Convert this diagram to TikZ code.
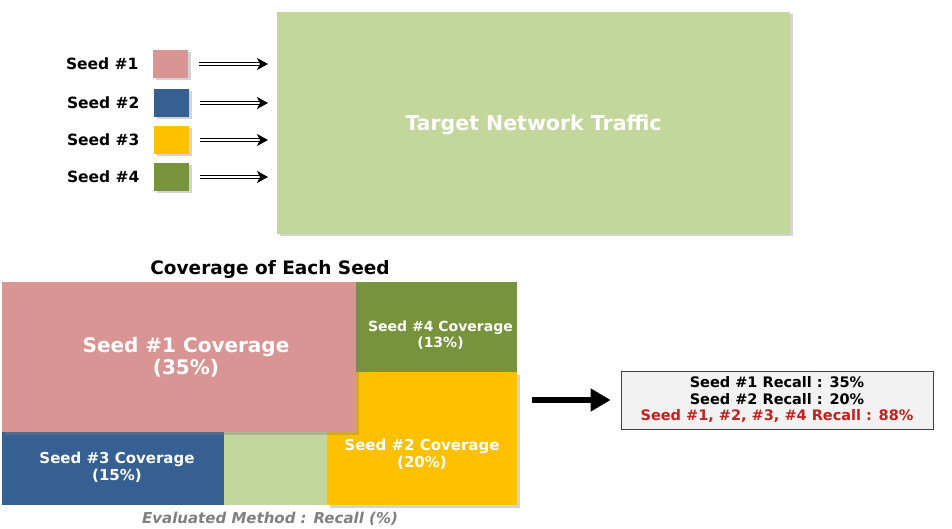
\documentclass[tikz,border=0pt]{standalone}
\usepackage{fontspec}
\setmainfont{DejaVu Sans}
\usetikzlibrary{arrows.meta, shadows}

\definecolor{seedPink}{HTML}{D99594}
\definecolor{seedBlue}{HTML}{376092}
\definecolor{seedYellow}{HTML}{FFC000}
\definecolor{seedGreen}{HTML}{77933C}
\definecolor{trafficGreen}{HTML}{C3D69B}
\definecolor{recallRed}{HTML}{C81E1E}

\newcommand{\fsz}[1]{\fontsize{#1}{1.1\dimexpr#1pt\relax}\selectfont\bfseries}

\tikzset{
  block/.style={anchor=north west, inner sep=0pt, outer sep=0pt},
  shade/.style={drop shadow={opacity=0.35, shadow xshift=2.5pt, shadow yshift=-2.5pt}},
  swatch/.style={block, minimum width=35pt, minimum height=28pt, shade},
  blocktext/.style={text=white, align=center, inner sep=0pt},
  seedlabel/.style={anchor=east, font=\fsz{15.5}},
  feed/.style={double, double distance=1.6pt, line width=1.4pt,
    shorten <=11pt, shorten >=16pt},
  feedtip/.style={line width=1pt, -{Stealth[length=11pt, width=12pt, inset=3pt]},
    shorten <=74pt, shorten >=9pt},
  bigarrow/.style={line width=6pt, -{Triangle[length=20pt, width=22pt]},
    shorten <=15pt, shorten >=10pt}
}

\begin{document}
\begin{tikzpicture}[x=1pt, y=-1pt]
\useasboundingbox (0,0) rectangle (952,529);

%% ---- Target traffic and the four seeds ----
\node[block, fill=trafficGreen, shade, minimum width=513pt, minimum height=222pt] (target) at (277,12) {};
\node[blocktext, font=\fsz{20.5}] at ([yshift=-2pt]target.center) {Target Network Traffic};

\node[swatch, fill=seedPink]   (sw1) at (153,50)  {};
\node[swatch, fill=seedBlue]   (sw2) at (154,89)  {};
\node[swatch, fill=seedYellow] (sw3) at (154,126) {};
\node[swatch, fill=seedGreen]  (sw4) at (154,163) {};

\foreach \i in {1,...,4} {
  \node[seedlabel] (lab\i) at ([xshift=-11pt]sw\i.west) {Seed \#\i};
  \draw[feed] (sw\i.east) -- (sw\i.east -| target.west);
  \draw[feedtip] (sw\i.east) -- (sw\i.east -| target.west);
}

%% ---- Coverage map ----
\node[font=\fsz{18.5}] (title) at (270,269) {Coverage of Each Seed};

\node[block, fill=trafficGreen, minimum width=103pt, minimum height=73pt] (rest) at (224,432) {};
\node[block, fill=seedYellow, shade, minimum width=190pt, minimum height=133pt] (cov2) at (327,372) {};
\node[block, fill=seedGreen, minimum width=161pt, minimum height=90pt] (cov4) at (356,282) {};
\node[block, fill=seedBlue, minimum width=222pt, minimum height=73pt] (cov3) at (2,432) {};
\node[block, fill=seedPink, shade, minimum width=354pt, minimum height=150pt] (cov1) at (2,282) {};

\node[blocktext, font=\fsz{20}] at ([xshift=7pt]cov1.center) {Seed \#1 Coverage\\(35\%)};
\node[blocktext, font=\fsz{14}] at ([xshift=4pt, yshift=-8pt]cov4.center) {Seed \#4 Coverage\\(13\%)};
\node[blocktext, font=\fsz{15}] at ([yshift=-16pt]cov2.center) {Seed \#2 Coverage\\(20\%)};
\node[blocktext, font=\fsz{15}] at ([xshift=4pt, yshift=1pt]cov3.center) {Seed \#3 Coverage\\(15\%)};

\node[font=\fontsize{15}{18}\selectfont\bfseries\itshape, text=black!50] (method) at (270,519)
  {Evaluated Method : Recall (\%)};

%% ---- Recall result ----
\node[draw=black!75, line width=0.8pt, fill=black!5, minimum width=312pt, minimum height=58pt,
  align=center, inner sep=0pt, font=\fontsize{14.5}{16.5}\selectfont\bfseries] (result) at (777,400)
  {Seed \#1 Recall : 35\%\\Seed \#2 Recall : 20\%\\
   \textcolor{recallRed}{Seed \#1, \#2, \#3, \#4 Recall : 88\%}};

\draw[bigarrow] (cov2.east |- result.west) -- (result.west);

\end{tikzpicture}
\end{document}
